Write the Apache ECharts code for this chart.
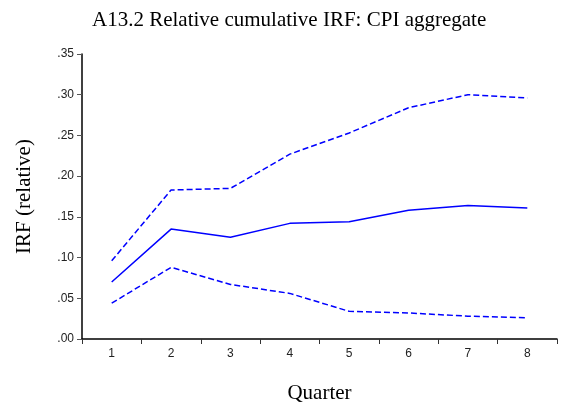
<!DOCTYPE html>
<html>
<head>
<meta charset="utf-8">
<script src="https://cdn.jsdelivr.net/npm/echarts@6/dist/echarts.min.js"></script>
<style>
  html, body { margin: 0; padding: 0; background: #fff; }
  #chart { width: 565px; height: 412px; }
</style>
</head>
<body>
<div id="chart"></div>
<script>
// quarters on the x axis
var quarters = ["1", "2", "3", "4", "5", "6", "7", "8"];
// cumulative IRF (relative) and its bands
var irfMid = [0.070, 0.135, 0.125, 0.142, 0.144, 0.158, 0.164, 0.161];
var irfUpper = [0.096, 0.183, 0.185, 0.227, 0.253, 0.284, 0.300, 0.296];
var irfLower = [0.044, 0.088, 0.067, 0.056, 0.034, 0.032, 0.028, 0.026];

var chart = echarts.init(document.getElementById("chart"));

var serif = "'Liberation Serif', 'Times New Roman', serif";
var sans = "'Liberation Sans', Arial, sans-serif";
var blue = "#0000ff";

var option = {
  animation: false,
  backgroundColor: "#fff",
  title: {
    text: "A13.2 Relative cumulative IRF: CPI aggregate",
    left: 87,
    top: 5,
    textStyle: {
      fontFamily: serif,
      fontWeight: "normal",
      fontSize: 21,
      color: "#000"
    }
  },
  grid: {
    left: 82,
    right: 8,
    top: 54,
    bottom: 73
  },
  xAxis: {
    type: "category",
    data: quarters,
    boundaryGap: true,
    name: "Quarter",
    nameLocation: "middle",
    nameGap: 44,
    nameTextStyle: {
      fontFamily: serif,
      fontSize: 21,
      color: "#000"
    },
    axisLine: { lineStyle: { color: "#000", width: 1.5 } },
    axisTick: { show: true, length: 5, lineStyle: { color: "#333" } },
    axisLabel: {
      fontFamily: sans,
      fontSize: 12,
      color: "#222",
      margin: 9
    },
    splitLine: { show: false }
  },
  yAxis: {
    type: "value",
    min: 0,
    max: 0.35,
    interval: 0.05,
    name: "IRF (relative)",
    nameLocation: "middle",
    nameGap: 47,
    nameTextStyle: {
      fontFamily: serif,
      fontSize: 21,
      color: "#000"
    },
    axisLine: { show: true, lineStyle: { color: "#000", width: 1.5 } },
    axisTick: { show: true, length: 5, lineStyle: { color: "#555" } },
    axisLabel: {
      fontFamily: sans,
      fontSize: 12,
      color: "#222",
      margin: 8,
      formatter: function (v) {
        return v.toFixed(2).replace(/^0/, "");
      }
    },
    splitLine: { show: false }
  },
  series: [
    {
      name: "upper",
      type: "line",
      data: irfUpper,
      symbol: "none",
      lineStyle: { color: blue, width: 1.5, type: [6, 3] }
    },
    {
      name: "irf",
      type: "line",
      data: irfMid,
      symbol: "none",
      lineStyle: { color: blue, width: 1.5 }
    },
    {
      name: "lower",
      type: "line",
      data: irfLower,
      symbol: "none",
      lineStyle: { color: blue, width: 1.5, type: [6, 3] }
    }
  ]
};

chart.setOption(option);
</script>
</body>
</html>
